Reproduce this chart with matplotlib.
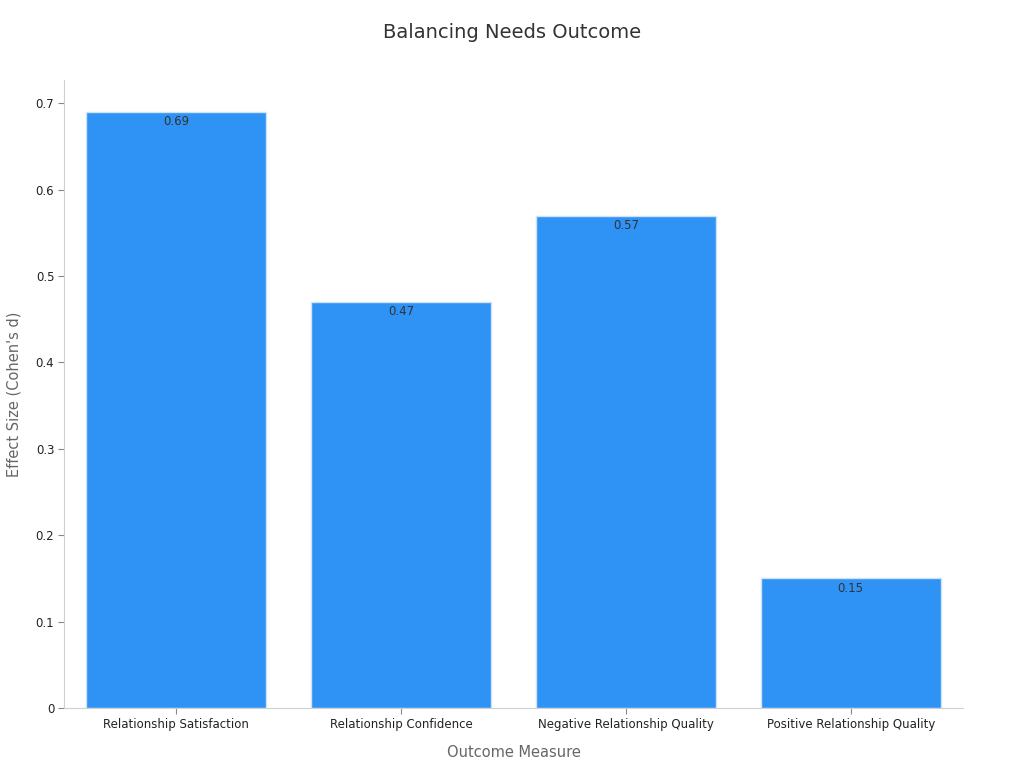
import matplotlib.pyplot as plt

categories = ["Relationship Satisfaction", "Relationship Confidence",
              "Negative Relationship Quality", "Positive Relationship Quality"]
effect_sizes = [0.69, 0.47, 0.57, 0.15]

fig = plt.figure(figsize=(10.24, 7.68), dpi=100)
ax = fig.add_axes([0.0625, 0.078, 0.878, 0.818])

bars = ax.bar(range(len(categories)), effect_sizes, width=0.8,
              color="#2E93F5", edgecolor="#cfe3f7", linewidth=1)
for b, v in zip(bars, effect_sizes):
    ax.text(b.get_x() + b.get_width() / 2, v - 0.004, f"{v:.2f}",
            ha="center", va="top", fontsize=8.5, color="#333333")

ax.set_xlim(-0.5, 3.5)
ax.set_ylim(0, 0.727)
ax.set_xticks(range(len(categories)))
ax.set_xticklabels(categories, fontsize=8.5, color="#222222")
ax.set_yticks([0, 0.1, 0.2, 0.3, 0.4, 0.5, 0.6, 0.7])
ax.set_yticklabels(["0", "0.1", "0.2", "0.3", "0.4", "0.5", "0.6", "0.7"],
                   fontsize=8.5, color="#222222")
ax.tick_params(colors="#888888", labelcolor="#222222", length=4, pad=3)

for s in ["top", "right"]:
    ax.spines[s].set_visible(False)
for s in ["left", "bottom"]:
    ax.spines[s].set_color("#d0d0d0")

ax.set_xlabel("Outcome Measure", fontsize=10.5, color="#666666", labelpad=10)
ax.set_ylabel("Effect Size (Cohen's d)", fontsize=10.5, color="#666666", labelpad=10)
fig.suptitle("Balancing Needs Outcome", fontsize=14, color="#333333", y=0.97)

fig.savefig("out.png", dpi=100)
